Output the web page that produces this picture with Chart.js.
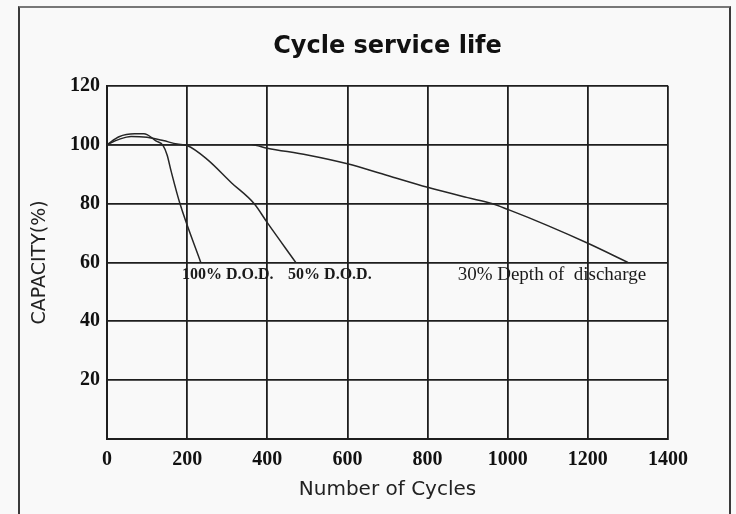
<!DOCTYPE html>
<html><head><meta charset="utf-8">
<script src="https://cdn.jsdelivr.net/npm/chart.js@4.4.1/dist/chart.umd.min.js"></script>
<style>
html,body{margin:0;padding:0;background:#f9f9f9;}
#wrap{position:relative;width:736px;height:514px;overflow:hidden;}
#frame{position:absolute;left:18px;top:6px;width:713px;height:600px;border-left:2.5px solid #3a3a3a;border-top:2px solid #777;border-right:2.5px solid #3a3a3a;box-sizing:border-box;}
canvas{position:absolute;left:0;top:0;}
</style></head>
<body><div id="wrap"><div id="frame"></div><canvas id="c" width="736" height="514"></canvas></div>
<script>
const chartTitle = "Cycle service life";
const xAxisTitle = "Number of Cycles";
const yAxisTitle = "CAPACITY(%)";
const xTickValues = [0, 200, 400, 600, 800, 1000, 1200, 1400];
const yTickValues = [0, 20, 40, 60, 80, 100, 120];

const dod100Cycles   = [0, 30, 69, 92, 100, 122, 140, 150, 160, 182, 234];
const dod100Capacity = [100, 102.7, 103.7, 103.7, 103.4, 101.3, 99.7, 96.5, 91, 80, 60];

const dod50Cycles    = [0, 30, 60, 100, 140, 175, 200, 250, 311, 367, 400, 471];
const dod50Capacity  = [100, 101.8, 102.8, 102.5, 101.4, 100.2, 99.7, 95, 87, 80, 73.5, 60];

const dod30Cycles    = [0, 360, 400, 500, 600, 700, 800, 900, 960, 1000, 1100, 1200, 1300];
const dod30Capacity  = [100, 100, 98.8, 96.5, 93.5, 89.5, 85.5, 82, 80, 78, 72.5, 66.5, 60];

const seriesLabels = ["100% D.O.D.", "50% D.O.D.", "30% Depth of  discharge"];

function pts(xs, ys){ return xs.map((x,i)=>({x:x, y:ys[i]})); }

const lineStyle = {borderColor:'#262626', borderWidth:1.5, pointRadius:0, cubicInterpolationMode:'monotone', fill:false};

const curveLabels = {
  id:'curveLabels',
  afterDatasetsDraw(chart, args, opts){
    const {ctx, scales:{x, y}} = chart;
    ctx.save();
    ctx.fillStyle = '#1a1a1a';
    ctx.textBaseline = 'middle';
    ctx.textAlign = 'left';
    opts.items.forEach(it=>{
      ctx.font = it.font;
      ctx.fillText(it.text, x.getPixelForValue(it.x), y.getPixelForValue(it.y));
    });
    ctx.restore();
  }
};

const gridColor = '#1e1e1e';
const tickFont = {family:'"Liberation Serif", "Times New Roman", serif', size:20, weight:'bold'};

new Chart(document.getElementById('c'), {
  type:'line',
  data:{
    datasets:[
      Object.assign({label:seriesLabels[0], data:pts(dod100Cycles, dod100Capacity)}, lineStyle),
      Object.assign({label:seriesLabels[1], data:pts(dod50Cycles, dod50Capacity)}, lineStyle),
      Object.assign({label:seriesLabels[2], data:pts(dod30Cycles, dod30Capacity)}, lineStyle)
    ]
  },
  options:{
    responsive:false,
    animation:false,
    layout:{padding:{left:0, right:68, top:0, bottom:0}},
    plugins:{
      legend:{display:false},
      tooltip:{enabled:false},
      title:{display:true, text:chartTitle, fullSize:false, color:'#111',
        font:{family:'"DejaVu Sans", Verdana, sans-serif', size:24, weight:'bold', lineHeight:1.2},
        padding:{top:32, bottom:25}},
      curveLabels:{items:[
        {text:seriesLabels[0], x:187, y:55.6, font:'bold 16px "Liberation Serif", serif'},
        {text:seriesLabels[1], x:452, y:55.6, font:'bold 16px "Liberation Serif", serif'},
        {text:seriesLabels[2], x:875, y:55.6, font:'19px "Liberation Serif", serif'}
      ]}
    },
    scales:{
      x:{type:'linear', min:0, max:1400,
        afterFit(s){ s.height = 75; },
        afterBuildTicks(s){ s.ticks = xTickValues.map(v=>({value:v})); },
        grid:{color:gridColor, lineWidth:1.8, drawTicks:false},
        border:{color:gridColor, width:2},
        ticks:{font:tickFont, color:'#111', padding:9, maxRotation:0, callback:(v)=> String(v)},
        title:{display:true, text:xAxisTitle, color:'#222',
          font:{family:'"DejaVu Sans", Verdana, sans-serif', size:20, lineHeight:1.2}, padding:{top:0, bottom:12}}
      },
      y:{type:'linear', min:0, max:120,
        afterFit(s){ s.width = 107; },
        afterBuildTicks(s){ s.ticks = yTickValues.map(v=>({value:v})); },
        grid:{color:gridColor, lineWidth:1.8, drawTicks:false},
        border:{color:gridColor, width:2},
        ticks:{font:tickFont, color:'#111', padding:7, callback:(v)=> v===0 ? '' : String(v)},
        title:{display:true, text:yAxisTitle, color:'#222',
          font:{family:'"DejaVu Sans", Verdana, sans-serif', size:19, lineHeight:1.2}, padding:{top:29, bottom:0}}
      }
    }
  },
  plugins:[curveLabels]
});
</script>
</body></html>
